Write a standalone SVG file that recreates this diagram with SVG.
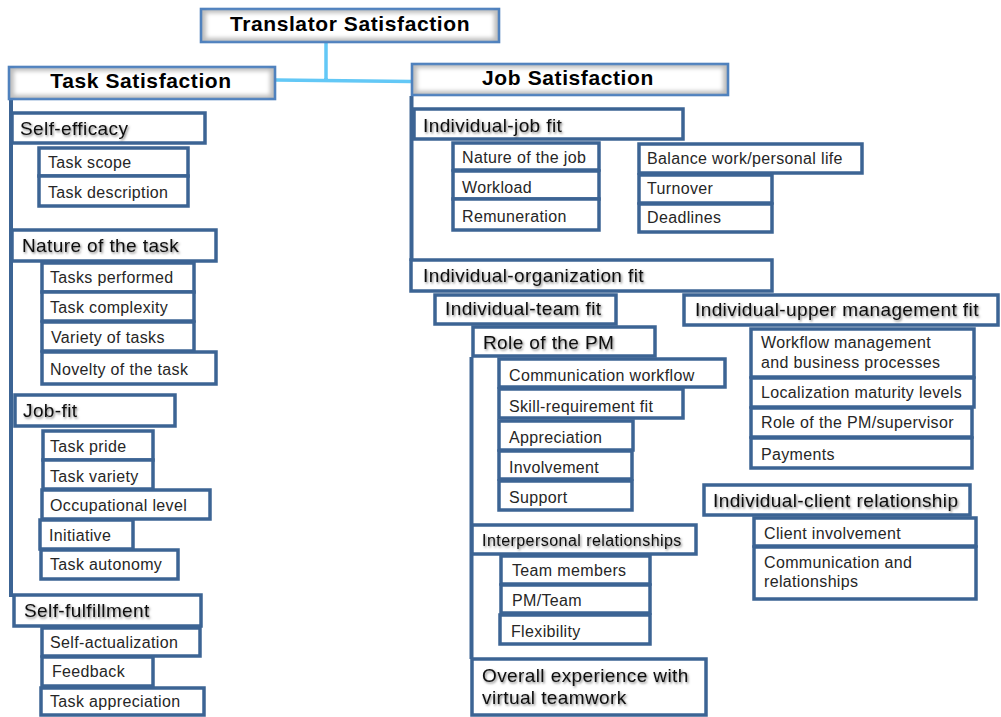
<svg xmlns="http://www.w3.org/2000/svg" width="1001" height="717" viewBox="0 0 1001 717">
<defs>
<filter id="blur" x="-5%" y="-20%" width="110%" height="140%"><feGaussianBlur stdDeviation="2.2"/></filter>
<filter id="ts" x="-5%" y="-30%" width="115%" height="170%"><feDropShadow dx="1.2" dy="1.5" stdDeviation="0.9" flood-color="#000" flood-opacity="0.5"/></filter>
</defs>
<style>
.b{fill:#fff;stroke:#3c6494;stroke-width:3.5}
.top{fill:#bdbdbd;stroke:#4f81bd;stroke-width:2.6}
.glow{fill:#fff}
.ln{stroke:#3c6494;stroke-width:4;fill:none}
.cn{stroke:#63c8f6;stroke-width:3.5;fill:none}
text{font-family:"Liberation Sans",Arial,sans-serif}
.t{font-size:16px;fill:#262626;letter-spacing:0.35px}
.h{font-size:19px;fill:#0d0d0d;letter-spacing:0.4px;filter:url(#ts)}
.hs{font-size:16px;fill:#0d0d0d;letter-spacing:0.45px;filter:url(#ts)}
.tt{font-size:21px;font-weight:bold;fill:#000;letter-spacing:0.6px;text-anchor:middle}
</style>
<rect width="1001" height="717" fill="#fff"/>
<g id="connectors">
<path class="cn" d="M326 43V80M276 80L411 81.5"/>
<path class="ln" d="M11 98V597"/>
<path class="ln" d="M411.5 96V261"/>
<path class="ln" d="M471.5 357V659"/>
</g>
<g id="translator-satisfaction"><rect class="top" x="201" y="9" width="298" height="33"/><rect class="glow" x="206" y="13" width="288" height="25" filter="url(#blur)"/><text class="tt" x="350" y="31">Translator Satisfaction</text></g>
<g id="task-satisfaction"><rect class="top" x="9" y="67" width="266" height="32"/><rect class="glow" x="14" y="71" width="256" height="24" filter="url(#blur)"/><text class="tt" x="141" y="88">Task Satisfaction</text></g>
<g id="job-satisfaction"><rect class="top" x="412" y="64" width="316" height="31"/><rect class="glow" x="417" y="68" width="306" height="23" filter="url(#blur)"/><text class="tt" x="568" y="85">Job Satisfaction</text></g>

<g id="self-efficacy"><rect class="b" x="12" y="113" width="193" height="30"/><text class="h" x="20" y="135">Self-efficacy</text></g>
<g id="task-scope"><rect class="b" x="39" y="148" width="149" height="28"/><text class="t" x="48" y="168">Task scope</text></g>
<g id="task-description"><rect class="b" x="39" y="176" width="149" height="30"/><text class="t" x="48" y="198">Task description</text></g>
<g id="nature-of-the-task"><rect class="b" x="12" y="230" width="204" height="31"/><text class="h" x="22" y="252">Nature of the task</text></g>
<g id="tasks-performed"><rect class="b" x="42" y="263" width="152" height="29"/><text class="t" x="50" y="283">Tasks performed</text></g>
<g id="task-complexity"><rect class="b" x="42" y="292" width="152" height="29"/><text class="t" x="50" y="313">Task complexity</text></g>
<g id="variety-of-tasks"><rect class="b" x="42" y="322" width="152" height="29"/><text class="t" x="51" y="343">Variety of tasks</text></g>
<g id="novelty-of-the-task"><rect class="b" x="42" y="352" width="174" height="32"/><text class="t" x="50" y="375">Novelty of the task</text></g>
<g id="job-fit"><rect class="b" x="15" y="395" width="160" height="31"/><text class="h" x="23" y="417">Job-fit</text></g>
<g id="task-pride"><rect class="b" x="43" y="431" width="110" height="29"/><text class="t" x="50" y="452">Task pride</text></g>
<g id="task-variety"><rect class="b" x="43" y="460" width="110" height="29"/><text class="t" x="50" y="482">Task variety</text></g>
<g id="occupational-level"><rect class="b" x="42" y="490" width="168" height="29"/><text class="t" x="50" y="511">Occupational level</text></g>
<g id="initiative"><rect class="b" x="40" y="520" width="93" height="29"/><text class="t" x="49" y="541">Initiative</text></g>
<g id="task-autonomy"><rect class="b" x="41" y="550" width="137" height="29"/><text class="t" x="50" y="570">Task autonomy</text></g>
<g id="self-fulfillment"><rect class="b" x="14" y="595" width="187" height="31"/><text class="h" x="24" y="617">Self-fulfillment</text></g>
<g id="self-actualization"><rect class="b" x="42" y="628" width="158" height="28"/><text class="t" x="50" y="648">Self-actualization</text></g>
<g id="feedback"><rect class="b" x="42" y="657" width="111" height="29"/><text class="t" x="52" y="677">Feedback</text></g>
<g id="task-appreciation"><rect class="b" x="41" y="688" width="163" height="27"/><text class="t" x="50" y="707">Task appreciation</text></g>

<g id="individual-job-fit"><rect class="b" x="414" y="109" width="269" height="30"/><text class="h" x="423" y="132">Individual-job fit</text></g>
<g id="nature-of-the-job"><rect class="b" x="453" y="143" width="146" height="27"/><text class="t" x="462" y="163" letter-spacing="0.8">Nature of the job</text></g>
<g id="workload"><rect class="b" x="453" y="171" width="146" height="28"/><text class="t" x="462" y="193">Workload</text></g>
<g id="remuneration"><rect class="b" x="453" y="199" width="146" height="31"/><text class="t" x="462" y="222">Remuneration</text></g>
<g id="balance-work-personal-life"><rect class="b" x="639" y="144" width="223" height="29"/><text class="t" x="647" y="164">Balance work/personal life</text></g>
<g id="turnover"><rect class="b" x="639" y="175" width="133" height="28"/><text class="t" x="647" y="194">Turnover</text></g>
<g id="deadlines"><rect class="b" x="639" y="204" width="133" height="28"/><text class="t" x="647" y="223">Deadlines</text></g>
<g id="individual-organization-fit"><rect class="b" x="411" y="260" width="361" height="31"/><text class="h" x="423" y="282">Individual-organization fit</text></g>
<g id="individual-team-fit"><rect class="b" x="435" y="295" width="181" height="29"/><text class="h" x="445" y="315">Individual-team fit</text></g>
<g id="role-of-the-pm"><rect class="b" x="473" y="327" width="182" height="29"/><text class="h" x="483" y="349">Role of the PM</text></g>
<g id="communication-workflow"><rect class="b" x="499" y="359" width="226" height="28"/><text class="t" x="509" y="381">Communication workflow</text></g>
<g id="skill-requirement-fit"><rect class="b" x="499" y="389" width="184" height="29"/><text class="t" x="509" y="412">Skill-requirement fit</text></g>
<g id="appreciation"><rect class="b" x="499" y="421" width="134" height="29"/><text class="t" x="509" y="443">Appreciation</text></g>
<g id="involvement"><rect class="b" x="499" y="451" width="133" height="28"/><text class="t" x="509" y="473">Involvement</text></g>
<g id="support"><rect class="b" x="499" y="481" width="133" height="29"/><text class="t" x="509" y="503">Support</text></g>
<g id="interpersonal-relationships"><rect class="b" x="472" y="525" width="224" height="29"/><text class="hs" x="482" y="546">Interpersonal relationships</text></g>
<g id="team-members"><rect class="b" x="501" y="556" width="149" height="28"/><text class="t" x="512" y="576">Team members</text></g>
<g id="pm-team"><rect class="b" x="501" y="585" width="149" height="28"/><text class="t" x="512" y="606">PM/Team</text></g>
<g id="flexibility"><rect class="b" x="500" y="615" width="150" height="29"/><text class="t" x="511" y="637">Flexibility</text></g>
<g id="overall-experience"><rect class="b" x="472" y="659" width="234" height="56"/><text class="h" x="482" y="682">Overall experience with</text><text class="h" x="482" y="704">virtual teamwork</text></g>
<g id="individual-upper-management-fit"><rect class="b" x="684" y="295" width="314" height="30"/><text class="h" x="695" y="316">Individual-upper management fit</text></g>
<g id="workflow-management"><rect class="b" x="751" y="329" width="223" height="48"/><text class="t" x="761" y="348">Workflow management</text><text class="t" x="761" y="368">and business processes</text></g>
<g id="localization-maturity-levels"><rect class="b" x="751" y="378" width="223" height="29"/><text class="t" x="761" y="398">Localization maturity levels</text></g>
<g id="role-of-the-pm-supervisor"><rect class="b" x="751" y="408" width="221" height="29"/><text class="t" x="761" y="428">Role of the PM/supervisor</text></g>
<g id="payments"><rect class="b" x="751" y="438" width="221" height="30"/><text class="t" x="761" y="460">Payments</text></g>
<g id="individual-client-relationship"><rect class="b" x="704" y="485" width="266" height="30"/><text class="h" x="713" y="507">Individual-client relationship</text></g>
<g id="client-involvement"><rect class="b" x="754" y="518" width="222" height="28"/><text class="t" x="764" y="539">Client involvement</text></g>
<g id="communication-and-relationships"><rect class="b" x="754" y="547" width="222" height="52"/><text class="t" x="764" y="568">Communication and</text><text class="t" x="764" y="587">relationships</text></g>
</svg>
